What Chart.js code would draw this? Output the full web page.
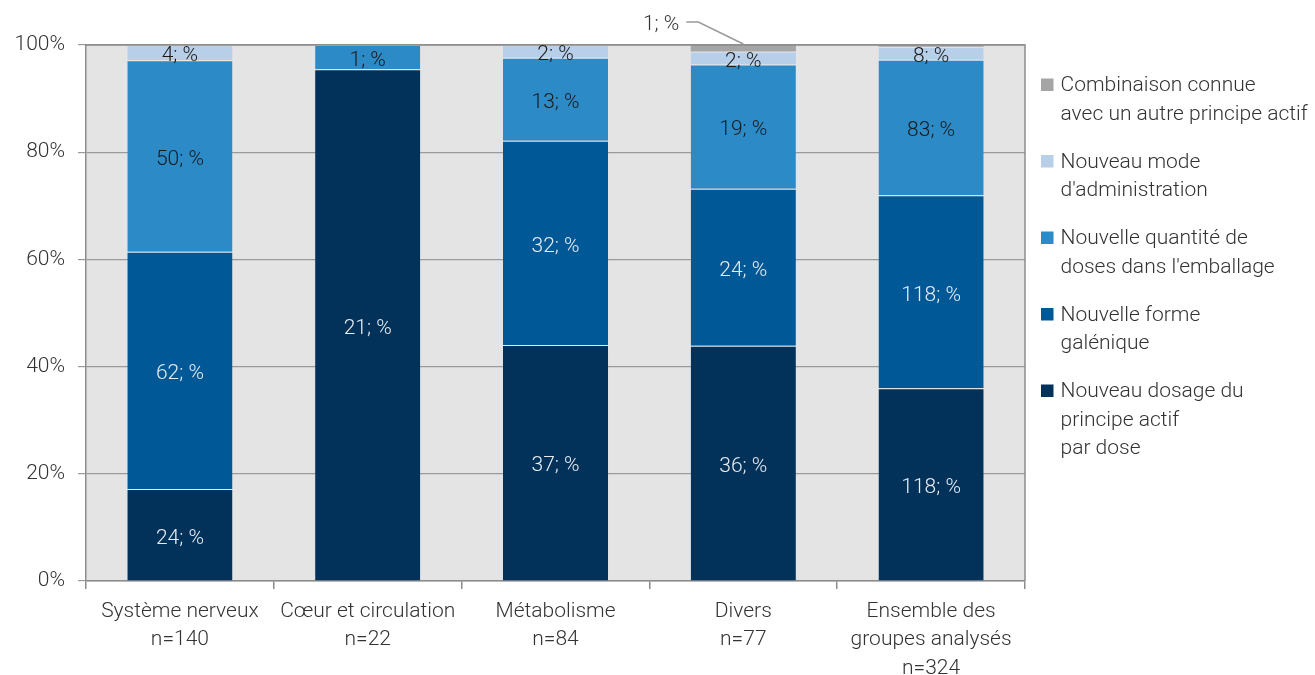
<!DOCTYPE html>
<html>
<head>
<meta charset="utf-8">
<script src="https://cdn.jsdelivr.net/npm/chart.js@4/dist/chart.umd.min.js"></script>
<style>
  html, body { margin: 0; padding: 0; background: #ffffff; }
  #wrap { width: 1315px; height: 675px; position: relative; }
</style>
</head>
<body>
<div id="wrap"><canvas id="c" width="1315" height="675"></canvas></div>
<script>
// ---- Data ----
const categories = [
  ["Système nerveux", "n=140"],
  ["Cœur et circulation", "n=22"],
  ["Métabolisme", "n=84"],
  ["Divers", "n=77"],
  ["Ensemble des", "groupes analysés", "n=324"]
];
const seriesNames = [
  ["Nouveau dosage du", "principe actif", "par dose"],
  ["Nouvelle forme", "galénique"],
  ["Nouvelle quantité de", "doses dans l'emballage"],
  ["Nouveau mode", "d'administration"],
  ["Combinaison connue", "avec un autre principe actif"]
];
const dosage      = [24, 21, 37, 36, 118];
const forme       = [62, 0, 32, 24, 118];
const quantite    = [50, 1, 13, 19, 83];
const mode        = [4, 0, 2, 2, 8];
const combinaison = [0, 0, 0, 1, 1];
const yTicks = [0, 20, 40, 60, 80, 100];

// ---- Styles ----
const colors = ['#02315A', '#015896', '#2C8AC6', '#B8CFEA', '#A5A5A5'];
const labelColors = ['#E8EDF2', '#E8EDF2', '#1A1A1A', '#1A1A1A', '#1A1A1A'];
const FONT = 'Roboto, "Liberation Sans", sans-serif';
const FSIZE = 21;

const counts = [dosage, forme, quantite, mode, combinaison];
const totals = categories.map((_, j) => counts.reduce((s, arr) => s + arr[j], 0));
const percents = counts.map(arr => arr.map((v, j) => v / totals[j] * 100));

const datasets = counts.map((arr, i) => ({
  label: seriesNames[i].join(' '),
  data: percents[i],
  counts: arr,
  backgroundColor: colors[i],
  borderColor: 'rgba(255,255,255,0.2)',
  borderWidth: { top: i === counts.length - 1 ? 0 : 1, left: 0, right: 0, bottom: 0 },
  borderSkipped: false,
  barPercentage: 0.56,
  categoryPercentage: 1.0
}));

const bgPlugin = {
  id: 'bg',
  beforeDraw(chart) {
    const { ctx, chartArea: a } = chart;
    ctx.save();
    ctx.fillStyle = '#E4E4E4';
    ctx.fillRect(a.left, a.top, a.right - a.left, a.bottom - a.top);
    ctx.restore();
  },
  afterDatasetsDraw(chart) {
    const { ctx, chartArea: a } = chart;
    ctx.save();
    ctx.strokeStyle = '#8C8C8C';
    ctx.lineWidth = 1.5;
    ctx.beginPath();
    ctx.moveTo(a.left, a.top);
    ctx.lineTo(a.right, a.top);
    ctx.lineTo(a.right, a.bottom);
    ctx.stroke();
    ctx.restore();
  }
};

const labelPlugin = {
  id: 'segLabels',
  afterDatasetsDraw(chart) {
    const ctx = chart.ctx;
    ctx.save();
    ctx.font = '300 ' + FSIZE + 'px ' + FONT;
    ctx.textBaseline = 'middle';
    chart.data.datasets.forEach((ds, i) => {
      const meta = chart.getDatasetMeta(i);
      meta.data.forEach((bar, j) => {
        const c = ds.counts[j];
        if (!c) return;
        const h = bar.base - bar.y;
        const txt = c + '; %';
        if (h > 10) {
          ctx.fillStyle = labelColors[i];
          ctx.textAlign = 'center';
          ctx.fillText(txt, bar.x, (bar.y + bar.base) / 2 + 3.5);
        } else if (h > 3) {
          // callout with leader line
          ctx.strokeStyle = '#9A9A9A';
          ctx.lineWidth = 1.5;
          ctx.beginPath();
          ctx.moveTo(bar.x - 57, bar.y - 23);
          ctx.lineTo(bar.x - 45, bar.y - 23);
          ctx.lineTo(bar.x, bar.y - 1);
          ctx.stroke();
          ctx.fillStyle = '#333333';
          ctx.textAlign = 'right';
          ctx.fillText(txt, bar.x - 64, bar.y - 20.5);
        }
      });
    });
    ctx.restore();
  }
};

const legendPlugin = {
  id: 'sideLegend',
  afterDraw(chart) {
    const { ctx, chartArea: a } = chart;
    ctx.save();
    ctx.font = '300 ' + FSIZE + 'px ' + FONT;
    ctx.textBaseline = 'middle';
    ctx.textAlign = 'left';
    const lh = 28.5, gap = 19.5;
    let y = a.top + 39.5;
    for (let i = seriesNames.length - 1; i >= 0; i--) {
      ctx.fillStyle = colors[i];
      ctx.fillRect(a.right + 16, y - 6, 12.5, 12.5);
      ctx.fillStyle = '#333333';
      seriesNames[i].forEach((line, k) => {
        ctx.fillText(line, a.right + 35.5, y + k * lh + 1.5);
      });
      y += seriesNames[i].length * lh + gap;
    }
    ctx.restore();
  }
};

new Chart(document.getElementById('c'), {
  type: 'bar',
  data: { labels: categories, datasets },
  plugins: [bgPlugin, labelPlugin, legendPlugin],
  options: {
    responsive: false,
    animation: false,
    layout: { padding: { top: 45, right: 290, left: 0, bottom: 0 } },
    plugins: { legend: { display: false }, tooltip: { enabled: false } },
    scales: {
      x: {
        stacked: true,
        afterFit(s) { s.height = 94; },
        grid: { offset: true, drawOnChartArea: false, drawTicks: true, tickLength: 8, color: '#8C8C8C', lineWidth: 1.5 },
        border: { color: '#8C8C8C', width: 1.5 },
        ticks: {
          color: '#333333', padding: 8.5, maxRotation: 0, autoSkip: false,
          font: { family: FONT, size: FSIZE, weight: '300', lineHeight: 1.355 }
        }
      },
      y: {
        stacked: true,
        min: 0, max: 100,
        afterFit(s) { s.width = 86; },
        afterBuildTicks(s) { s.ticks = yTicks.map(v => ({ value: v })); },
        grid: { color: '#9A9A9A', lineWidth: 1.2, tickLength: 8 },
        border: { color: '#8C8C8C', width: 1.5 },
        ticks: {
          color: '#333333', padding: 13,
          font: { family: FONT, size: FSIZE, weight: '300' },
          callback: v => v + '%'
        }
      }
    }
  }
});
</script>
</body>
</html>
